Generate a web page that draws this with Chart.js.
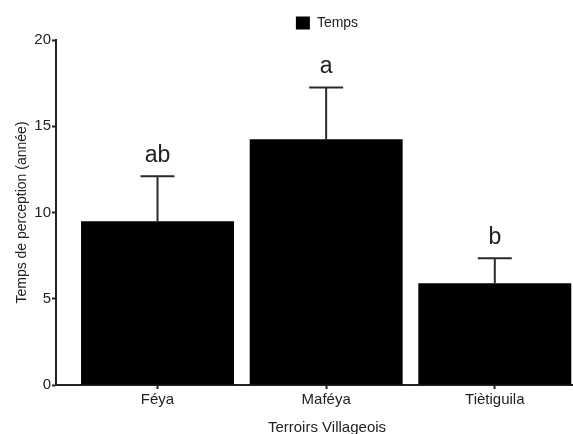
<!DOCTYPE html>
<html>
<head>
<meta charset="utf-8">
<script src="https://cdn.jsdelivr.net/npm/chart.js@4/dist/chart.umd.min.js"></script>
<style>
  html, body { margin: 0; padding: 0; background: #ffffff; overflow: hidden; }
  body { width: 573px; height: 434px; }
  canvas { display: block; }
</style>
</head>
<body>
<!-- the plot area runs slightly past the right edge of the page -->
<canvas id="chart" width="598" height="434"></canvas>
<script>
// Perception time per village territory (mean with upper error)
const categories = ['Féya', 'Maféya', 'Tiètiguila'];
const means = [9.5, 14.25, 5.9];
const upperErrors = [2.6, 3.0, 1.45];
const groupLetters = ['ab', 'a', 'b'];
const yTicks = [0, 5, 10, 15, 20];

const FONT = '"Liberation Sans", Arial, Helvetica, sans-serif';
const INK = '#222222';

// Error whiskers and significance letters above each bar
const errorBarPlugin = {
  id: 'errorBars',
  afterDatasetsDraw(chart) {
    const { ctx, scales: { x, y } } = chart;
    ctx.save();
    ctx.strokeStyle = '#2a2a2a';
    ctx.lineWidth = 2;
    ctx.fillStyle = INK;
    ctx.font = '23px ' + FONT;
    ctx.textAlign = 'center';
    ctx.textBaseline = 'alphabetic';
    const capHalf = 17;
    means.forEach((m, i) => {
      const cx = x.getPixelForValue(i);
      const yBase = y.getPixelForValue(m);
      const yTop = y.getPixelForValue(m + upperErrors[i]);
      ctx.beginPath();
      ctx.moveTo(cx, yBase);
      ctx.lineTo(cx, yTop);
      ctx.moveTo(cx - capHalf, yTop);
      ctx.lineTo(cx + capHalf, yTop);
      ctx.stroke();
      ctx.fillText(groupLetters[i], cx, yTop - 14);
    });
    ctx.restore();
  }
};

new Chart(document.getElementById('chart'), {
  type: 'bar',
  data: {
    datasets: [{
      label: 'Temps',
      data: means.map((v, i) => ({ x: i, y: v })),
      backgroundColor: '#000000',
      borderWidth: 0,
      categoryPercentage: 1,
      barPercentage: 0.907
    }]
  },
  options: {
    responsive: false,
    animation: false,
    events: [],
    layout: { padding: { left: 0, right: 0, top: 0, bottom: 0 } },
    plugins: {
      tooltip: { enabled: false },
      legend: {
        display: true,
        position: 'top',
        fullSize: false,
        labels: {
          boxWidth: 14,
          boxHeight: 13,
          padding: 16,
          color: INK,
          font: { family: FONT, size: 14 }
        }
      }
    },
    scales: {
      x: {
        type: 'linear',
        offset: false,
        min: -0.602,
        max: 2.612,
        afterBuildTicks(scale) {
          scale.ticks = categories.map((_, i) => ({ value: i }));
        },
        afterFit(scale) { scale.height = 49; },
        ticks: {
          color: INK,
          padding: 2,
          maxRotation: 0,
          autoSkip: false,
          font: { family: FONT, size: 15 },
          callback: (v) => categories[v]
        },
        grid: {
          display: true,
          offset: false,
          drawOnChartArea: false,
          drawTicks: true,
          tickLength: 4,
          tickWidth: 2,
          tickColor: INK
        },
        border: { display: true, color: INK, width: 2 },
        title: {
          display: true,
          text: 'Terroirs Villageois',
          color: INK,
          font: { family: FONT, size: 15 },
          padding: { top: 0, bottom: -3 }
        }
      },
      y: {
        min: 0,
        max: 20,
        afterBuildTicks(scale) {
          scale.ticks = yTicks.map(v => ({ value: v }));
        },
        afterFit(scale) { scale.width = 56; },
        ticks: {
          color: INK,
          padding: 1,
          font: { family: FONT, size: 15 }
        },
        grid: {
          display: true,
          drawOnChartArea: false,
          drawTicks: true,
          tickLength: 4,
          tickWidth: 2,
          tickColor: INK
        },
        border: { display: true, color: INK, width: 2 },
        title: {
          display: true,
          text: 'Temps de perception (année)',
          color: INK,
          font: { family: FONT, size: 14 },
          padding: { top: 13.6, bottom: 0 }
        }
      }
    }
  },
  plugins: [errorBarPlugin]
});
</script>
</body>
</html>
